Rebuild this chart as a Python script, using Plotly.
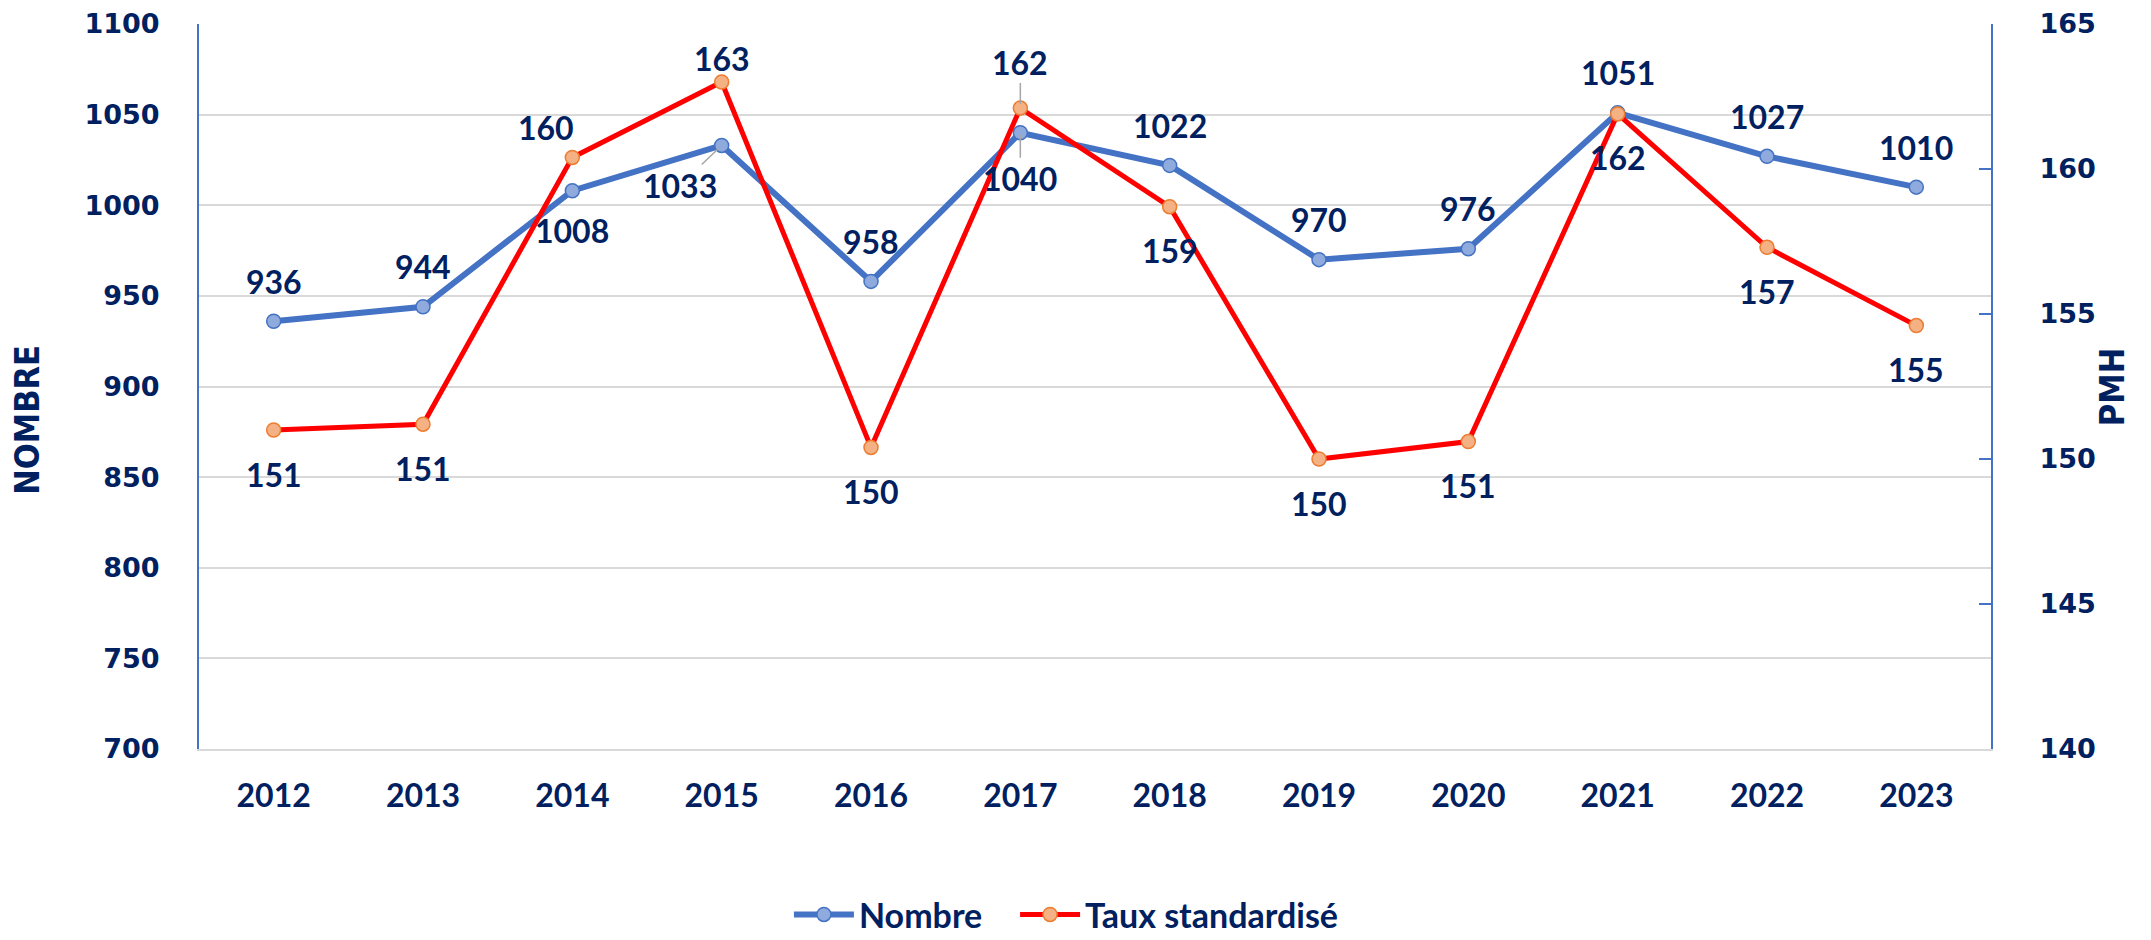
import plotly.graph_objects as go

years = ["2012", "2013", "2014", "2015", "2016", "2017", "2018", "2019", "2020", "2021", "2022", "2023"]
nombre = [936, 944, 1008, 1033, 958, 1040, 1022, 970, 976, 1051, 1027, 1010]
taux = [151.0, 151.2, 160.4, 163.0, 150.4, 162.1, 158.7, 150.0, 150.6, 161.9, 157.3, 154.6]
nombre_label_side = ["up", "up", "down", "down", "up", "down", "up", "up", "up", "up", "up", "up"]
taux_label_side = ["down", "down", "up", "up", "down", "up", "down", "down", "down", "down", "down", "down"]

NAVY = "#002060"
BLUE = "#4472C4"
RED = "#FF0000"

fig = go.Figure()
fig.add_trace(go.Scatter(
    x=years, y=nombre, name="Nombre", mode="lines+markers",
    line=dict(color=BLUE, width=6),
    marker=dict(size=14, color="#8FAADC", line=dict(color=BLUE, width=1.5)),
    yaxis="y", legend="legend"))
fig.add_trace(go.Scatter(
    x=years, y=taux, name="Taux standardisé", mode="lines+markers",
    line=dict(color=RED, width=5),
    marker=dict(size=14, color="#F4B183", line=dict(color="#ED7D31", width=1.5)),
    yaxis="y2", legend="legend2"))

lab_font = dict(family="Lato", size=32, color=NAVY, weight="bold")
annotations = []
for i, (v, side) in enumerate(zip(nombre, nombre_label_side)):
    ys = 40 if side == "up" else -40
    if years[i] == "2015":
        annotations.append(dict(x=i, y=v, xref="x", yref="y", text=str(v), showarrow=True,
                                arrowhead=0, arrowcolor="#A6A6A6", arrowwidth=1.5, ax=-42, ay=40,
                                standoff=4, font=lab_font))
    elif years[i] == "2017":
        annotations.append(dict(x=i, y=v, xref="x", yref="y", text=str(v), showarrow=True,
                                arrowhead=0, arrowcolor="#A6A6A6", arrowwidth=1.5, ax=0, ay=46,
                                standoff=2, font=lab_font))
    else:
        annotations.append(dict(x=i, y=v, xref="x", yref="y", text=str(v), showarrow=False,
                                yshift=ys, font=lab_font))
for i, (v, side) in enumerate(zip(taux, taux_label_side)):
    ys = 44 if side == "up" else -44
    xs = 0
    if years[i] == "2014":
        ys, xs = 30, -26
    if years[i] == "2015":
        ys = 24
    if years[i] == "2017":
        annotations.append(dict(x=i, y=v, xref="x", yref="y2", text=str(round(v)), showarrow=True,
                                arrowhead=0, arrowcolor="#A6A6A6", arrowwidth=1.5, ax=0, ay=-46,
                                standoff=4, font=lab_font))
    else:
        annotations.append(dict(x=i, y=v, xref="x", yref="y2", text=str(round(v)), showarrow=False,
                                yshift=ys, xshift=xs, font=lab_font))

title_font = dict(family="DejaVu Sans Condensed, Roboto, sans-serif", size=34, color=NAVY, weight="bold")
annotations.append(dict(x=-0.096, y=0.454, xref="paper", yref="paper", text="NOMBRE", textangle=-90,
                        showarrow=False, xanchor="center", yanchor="middle", font=title_font))
annotations.append(dict(x=1.0675, y=0.499, xref="paper", yref="paper", text="PMH", textangle=-90,
                        showarrow=False, xanchor="center", yanchor="middle", font=title_font))

tick_font = dict(family="DejaVu Sans", size=27, color=NAVY, weight="bold")
leg_font = dict(family="Lato", size=34, color=NAVY, weight="bold")

# page body has an 8px default margin: figure sized to fill the rest of the window
fig.update_layout(
    width=2143, height=932,
    margin=dict(l=191, r=160, t=16, b=191, autoexpand=False),
    plot_bgcolor="white", paper_bgcolor="white",
    showlegend=True,
    legend=dict(orientation="h", x=0.3292, xanchor="left", y=0.027, yanchor="middle",
                yref="container", font=leg_font, itemwidth=60),
    legend2=dict(orientation="h", x=0.4554, xanchor="left", y=0.027, yanchor="middle",
                 yref="container", font=leg_font, itemwidth=60),
    xaxis=dict(type="category", range=[-0.5, 11.5], showgrid=False, automargin=False,
               showline=True, linecolor="#D9D9D9", linewidth=2,
               tickfont=dict(family="Lato", size=32, color=NAVY, weight="bold"),
               ticks="", ticklabelstandoff=18),
    yaxis=dict(range=[700, 1100], dtick=50, showgrid=True, gridcolor="#D9D9D9", gridwidth=2,
               showline=True, linecolor=BLUE, linewidth=2, zeroline=False, automargin=False,
               tickfont=tick_font, ticks="", ticklabelstandoff=32),
    yaxis2=dict(range=[140, 165], dtick=5, overlaying="y", side="right", showgrid=False,
                showline=True, linecolor=BLUE, linewidth=2, zeroline=False, automargin=False,
                ticks="inside", ticklen=12, tickcolor=BLUE, tickwidth=2,
                tickfont=tick_font, ticklabelstandoff=41),
    annotations=annotations,
)

fig.write_html("out.html")
